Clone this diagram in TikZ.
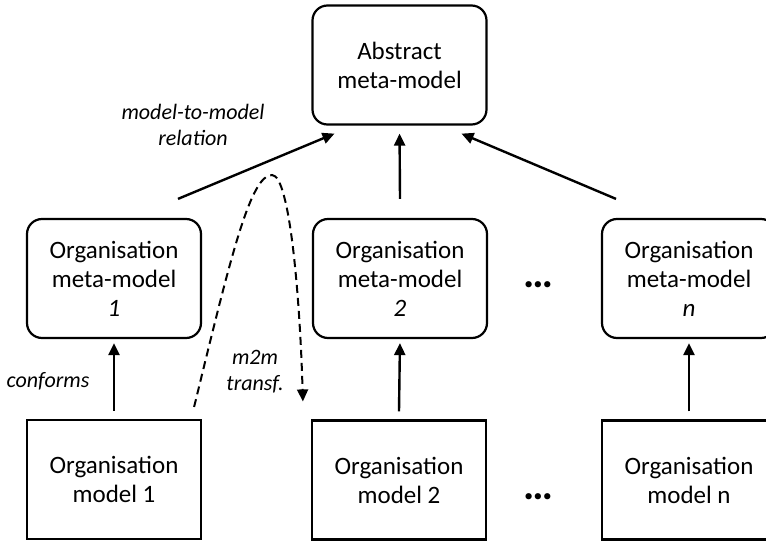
\documentclass[tikz,border=0pt]{standalone}
\usepackage{fontspec}
\setmainfont{Carlito}
\usetikzlibrary{arrows.meta}

\begin{document}
\begin{tikzpicture}[
  x=1pt, y=-1pt,
  metabox/.style={rounded corners=15pt, draw, line width=2.2pt,
                  minimum width=174pt, minimum height=119pt,
                  align=center, inner sep=4pt,
                  font=\fontsize{25}{29}\selectfont},
  modelbox/.style={metabox, sharp corners},
  arr/.style={-{Triangle[length=12pt,width=11pt]}, line width=2.4pt},
  lbl/.style={align=center, font=\fontsize{22}{26}\selectfont\itshape},
  dots/.style={font=\fontsize{42}{42}\selectfont\bfseries},
]
  \useasboundingbox (0,0) rectangle (766,541);

  \node[metabox] (abstract) at (399.5,65) {Abstract\\meta-model};
  \node[metabox] (orgmeta1) at (114,278.5) {Organisation\\meta-model\\\textit{1}};
  \node[metabox] (orgmeta2) at (400,278.5) {Organisation\\meta-model\\\textit{2}};
  \node[metabox] (orgmetan) at (689,278.5) {Organisation\\meta-model\\\textit{n}};
  \node[modelbox] (orgmodel1) at (114,479.5) {Organisation\\model 1};
  \node[modelbox] (orgmodel2) at (399,480) {Organisation\\model 2};
  \node[modelbox] (orgmodeln) at (689,480) {Organisation\\model n};
  \node[dots] (dotsmeta) at (538,285) {…};
  \node[dots] (dotsmodel) at (538,497) {…};

  \draw[arr] ([xshift=64pt,yshift=19pt]orgmeta1.north) -- ([xshift=-65pt,yshift=-8pt]abstract.south);
  \draw[arr, shorten >=8pt] ([yshift=19pt]orgmeta2.north) -- (abstract.south);
  \draw[arr] ([xshift=-73pt,yshift=19pt]orgmetan.north) -- ([xshift=62pt,yshift=-8pt]abstract.south);

  \draw[arr, shorten >=4pt] ([yshift=8pt]orgmodel1.north) -- (orgmeta1.south);
  \draw[arr, shorten >=4pt] ([yshift=8pt]orgmodel2.north) -- (orgmeta2.south);
  \draw[arr, shorten >=4pt] ([yshift=8pt]orgmodeln.north) -- (orgmetan.south);

  \draw[arr, line width=2pt, dash pattern=on 8pt off 5pt]
    ([xshift=-8pt,yshift=12pt]orgmodel1.north east)
    .. controls (230,260) and (250,175) .. (272,175)
    .. controls (290,175) and (300,300) .. ([xshift=-8pt,yshift=18pt]orgmodel2.north west);

  \node[lbl] (relation) at (193,125) {model-to-model\\relation};
  \node[lbl] (conforms) at (48,381) {conforms};
  \node[lbl] (transf) at (255,372) {m2m\\transf.};
\end{tikzpicture}
\end{document}
